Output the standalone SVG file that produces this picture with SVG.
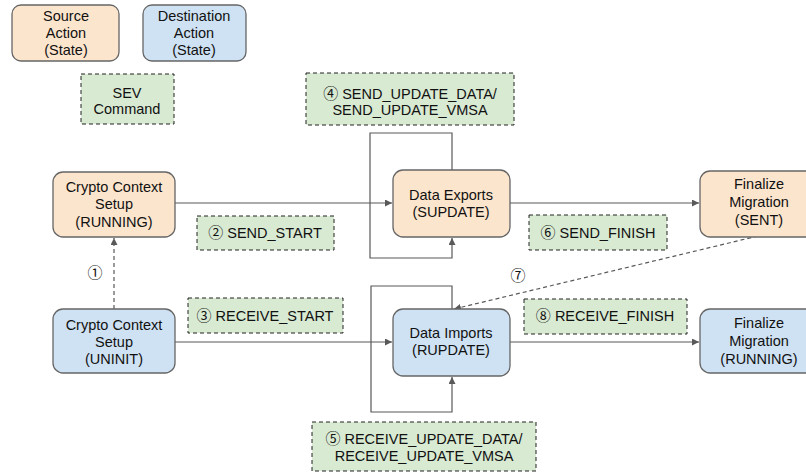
<svg xmlns="http://www.w3.org/2000/svg" width="806" height="472" viewBox="0 0 806 472">
<defs>
<marker id="ah" viewBox="0 0 10 10" refX="10" refY="5" markerWidth="7" markerHeight="7" markerUnits="userSpaceOnUse" orient="auto">
<path d="M0,0 L10,5 L0,10 z" fill="#595959"/>
</marker>
</defs>
<style>
.src{fill:#fce5cd;stroke:#666;stroke-width:1.3}
.dst{fill:#cfe2f3;stroke:#666;stroke-width:1.3}
.cmd{fill:#d9ead3;stroke:#222;stroke-width:1;stroke-dasharray:4,3}
text{font-family:"Liberation Sans","DejaVu Sans",sans-serif;font-size:14.5px;fill:#111;text-anchor:middle}
.n{font-family:"Noto Sans CJK JP","DejaVu Sans",sans-serif;font-size:15px}
.ln{fill:none;stroke:#595959;stroke-width:1.2}
.dl{fill:none;stroke:#595959;stroke-width:1.2;stroke-dasharray:4,3}
</style>
<g id="legend-source"><rect class="src" x="12" y="5" width="107" height="56" rx="9"/>
<text x="66" y="21">Source</text><text x="66" y="38">Action</text><text x="66" y="55">(State)</text></g>
<g id="legend-destination"><rect class="dst" x="143" y="5" width="103" height="56" rx="9"/>
<text x="194" y="21">Destination</text><text x="194" y="38">Action</text><text x="194" y="55">(State)</text></g>
<g id="legend-command"><rect class="cmd" x="81" y="74" width="93" height="50"/>
<text x="127" y="98">SEV</text><text x="127" y="114">Command</text></g>

<g id="connectors">
<path class="dl" d="M114,309 L114,238" marker-end="url(#ah)"/>
<path class="ln" d="M175,203 L392,203" marker-end="url(#ah)"/>
<path class="ln" d="M175,342 L392,342" marker-end="url(#ah)"/>
<path class="ln" d="M452,170 L452,133 L370,133 L370,258 L452,258 L452,238" marker-end="url(#ah)"/>
<path class="ln" d="M452,309 L452,286 L371,286 L371,412 L452,412 L452,377" marker-end="url(#ah)"/>
<path class="ln" d="M510,203 L699,203" marker-end="url(#ah)"/>
<path class="ln" d="M510,342 L699,342" marker-end="url(#ah)"/>
<path class="dl" d="M758,236 L454,309" marker-end="url(#ah)"/>
</g>

<g id="crypto-running"><rect class="src" x="53" y="172" width="122" height="65" rx="10"/>
<text x="114" y="192">Crypto Context</text><text x="114" y="209">Setup</text><text x="114" y="227">(RUNNING)</text></g>
<g id="crypto-uninit"><rect class="dst" x="53" y="309" width="122" height="64" rx="10"/>
<text x="114" y="330">Crypto Context</text><text x="114" y="347">Setup</text><text x="114" y="364">(UNINIT)</text></g>
<g id="data-exports"><rect class="src" x="393" y="170" width="117" height="67" rx="10"/>
<text x="451" y="200">Data Exports</text><text x="451" y="217">(SUPDATE)</text></g>
<g id="data-imports"><rect class="dst" x="393" y="309" width="117" height="67" rx="10"/>
<text x="451" y="338">Data Imports</text><text x="451" y="355">(RUPDATE)</text></g>
<g id="finalize-sent"><rect class="src" x="700" y="171" width="118" height="66" rx="10"/>
<text x="759" y="189">Finalize</text><text x="759" y="207">Migration</text><text x="759" y="225">(SENT)</text></g>
<g id="finalize-running"><rect class="dst" x="700" y="309" width="118" height="64" rx="10"/>
<text x="759" y="328">Finalize</text><text x="759" y="346">Migration</text><text x="759" y="364">(RUNNING)</text></g>

<g id="cmd-send-start"><rect class="cmd" x="197" y="216" width="137" height="34"/><text x="265" y="238"><tspan class="n">②</tspan> SEND_START</text></g>
<g id="cmd-receive-start"><rect class="cmd" x="188" y="298" width="155" height="35"/><text x="265" y="321"><tspan class="n">③</tspan> RECEIVE_START</text></g>
<g id="cmd-send-update"><rect class="cmd" x="306" y="73" width="208" height="52"/>
<text x="410" y="99"><tspan class="n">④</tspan> SEND_UPDATE_DATA/</text><text x="410" y="115">SEND_UPDATE_VMSA</text></g>
<g id="cmd-receive-update"><rect class="cmd" x="312" y="422" width="224" height="49"/>
<text x="424" y="444"><tspan class="n">⑤</tspan> RECEIVE_UPDATE_DATA/</text><text x="424" y="461">RECEIVE_UPDATE_VMSA</text></g>
<g id="cmd-send-finish"><rect class="cmd" x="529" y="215" width="138" height="35"/><text x="598" y="238"><tspan class="n">⑥</tspan> SEND_FINISH</text></g>
<g id="cmd-receive-finish"><rect class="cmd" x="524" y="299" width="163" height="35"/><text x="605" y="321"><tspan class="n">⑧</tspan> RECEIVE_FINISH</text></g>
<g id="label-1"><text class="n" x="95" y="278">①</text></g>
<g id="label-7"><text class="n" x="518" y="281">⑦</text></g>
</svg>
